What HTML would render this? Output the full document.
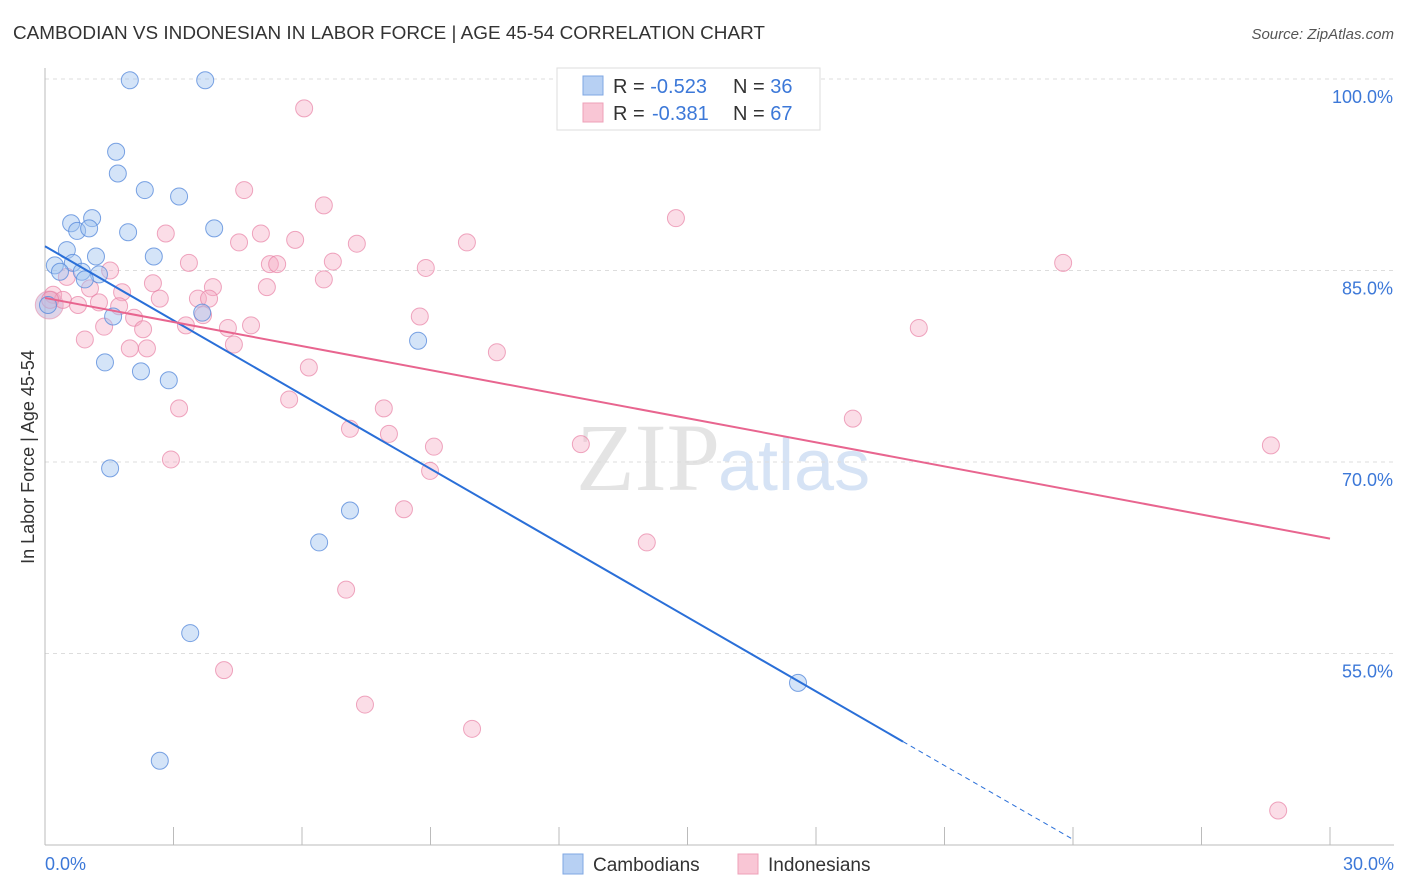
<!DOCTYPE html>
<html><head><meta charset="utf-8">
<style>
body{margin:0;background:#fff;font-family:"Liberation Sans",sans-serif;}
svg{display:block}
</style></head>
<body>
<svg id="chart" width="1406" height="892" xmlns="http://www.w3.org/2000/svg">
<text x="13" y="39" font-size="18" fill="#333" textLength="752" lengthAdjust="spacingAndGlyphs">CAMBODIAN VS INDONESIAN IN LABOR FORCE | AGE 45-54 CORRELATION CHART</text>
<text x="1394" y="39" font-size="15" fill="#555" text-anchor="end" font-style="italic">Source: ZipAtlas.com</text>
<text x="720" y="490" font-size="96" fill="#e4e4e4" text-anchor="end" font-family="Liberation Serif">ZIP</text>
<text x="718" y="490" font-size="72" fill="#d6e3f5">atlas</text>
<g id="grid"></g>
<g id="axes"></g>
<g id="marks"></g>
<text transform="translate(34,457) rotate(-90)" font-size="18" fill="#333" text-anchor="middle">In Labor Force | Age 45-54</text>
<text x="45" y="870" font-size="18" fill="#3c78d8">0.0%</text>
<text x="1394" y="870" font-size="18" fill="#3c78d8" text-anchor="end">30.0%</text>
<g>
<rect x="557" y="68" width="263" height="62" fill="#fff" stroke="#ddd"/>
<rect x="583" y="76" width="20" height="19" fill="#b7d0f3" stroke="#7fa7e3"/>
<rect x="583" y="103" width="20" height="19" fill="#f9c6d5" stroke="#eea0b8"/>
<text x="613" y="93" font-size="20" fill="#333">R = <tspan fill="#3c78d8">-0.523</tspan><tspan x="733">N = </tspan><tspan fill="#3c78d8">36</tspan></text>
<text x="613" y="120" font-size="20" fill="#333">R = <tspan fill="#3c78d8" x="652">-0.381</tspan><tspan x="733">N = </tspan><tspan fill="#3c78d8">67</tspan></text>
</g>
<g>
<rect x="563" y="854" width="20" height="20" fill="#b7d0f3" stroke="#7fa7e3"/>
<text x="593" y="871" font-size="19" fill="#333">Cambodians</text>
<rect x="738" y="854" width="20" height="20" fill="#f9c6d5" stroke="#eea0b8"/>
<text x="768" y="871" font-size="19" fill="#333">Indonesians</text>
</g>
</svg>
<script>
const yTicks=[100,85,70,55];
const yTickLabels=["100.0%","85.0%","70.0%","55.0%"];
const xTicks=[0,3,6,9,12,15,18,21,24,27,30];
const cambX=[1.98,3.74,1.66,1.70,2.33,3.13,0.61,1.10,0.75,1.03,1.94,3.95,0.51,1.19,2.54,0.23,0.65,0.35,0.86,1.26,0.93,0.07,1.59,3.67,8.71,1.40,2.24,2.89,1.52,7.12,6.40,3.39,17.58,2.68];
const cambY=[99.9,99.9,94.3,92.6,91.3,90.8,88.7,89.1,88.1,88.3,88.0,88.3,86.6,86.1,86.1,85.4,85.6,84.9,84.9,84.7,84.3,82.3,81.4,81.7,79.5,77.8,77.1,76.4,69.5,66.2,63.7,56.6,52.7,46.6];
const indoX=[6.05,4.65,6.51,14.73,2.82,5.04,4.53,5.84,7.28,9.85,3.36,5.25,5.42,6.72,8.89,23.77,1.52,0.51,2.52,5.18,3.92,6.51,1.05,1.80,0.19,0.42,1.26,2.68,3.57,3.83,0.77,1.73,2.08,3.69,8.75,1.38,2.29,3.29,4.27,4.81,20.40,0.93,1.98,2.38,4.41,10.55,6.16,3.13,5.70,7.91,7.12,8.03,12.51,9.08,18.86,28.62,2.94,8.99,8.38,14.05,7.03,4.18,7.47,9.97,28.79,0.12];
const indoY=[97.7,91.3,90.1,89.1,87.9,87.9,87.2,87.4,87.1,87.2,85.6,85.5,85.5,85.7,85.2,85.6,85.0,84.5,84.0,83.7,83.7,84.3,83.6,83.3,83.1,82.7,82.5,82.8,82.8,82.8,82.3,82.2,81.3,81.5,81.4,80.6,80.4,80.7,80.5,80.7,80.5,79.6,78.9,78.9,79.2,78.6,77.4,74.2,74.9,74.2,72.6,72.2,71.4,71.2,73.4,71.3,70.2,69.3,66.3,63.7,60.0,53.7,51.0,49.1,42.7,82.7];
const cambTrend=[[0,86.9],[20.03,48.1]];
const cambTrendExt=[[20.03,48.1],[24.02,40.4]];
const indoTrend=[[0,82.85],[30,64.0]];
const sx=v=>45+v/30*1285;
const sy=v=>79+(100-v)/15*191.5;
const NS="http://www.w3.org/2000/svg";
function mk(tag,attrs,parent){const e=document.createElementNS(NS,tag);for(const k in attrs)e.setAttribute(k,attrs[k]);parent.appendChild(e);return e;}
const grid=document.getElementById('grid'),axes=document.getElementById('axes'),marks=document.getElementById('marks');
yTicks.forEach((t,i)=>{
 const l=mk('line',{x1:45,x2:1394,y1:sy(t),y2:sy(t),stroke:'#ddd','stroke-dasharray':'4,4'},grid);
 
 
 const tx=mk('text',{x:1393,y:sy(t)+24,'font-size':18,fill:'#3c78d8','text-anchor':'end'},axes);
 tx.textContent=yTickLabels[i];
 
 
});
const ya=mk('line',{x1:45,x2:45,y1:68,y2:845,stroke:'#bbb'},axes);


const xa=mk('line',{x1:45,x2:1394,y1:845,y2:845,stroke:'#bbb'},axes);


xTicks.forEach(t=>{
 const l=mk('line',{x1:sx(t),x2:sx(t),y1:827,y2:845,stroke:'#bbb'},axes);
 
 
});
const big=mk('circle',{cx:sx(0.1),cy:sy(82.3),r:14,fill:'rgba(190,170,210,0.5)',stroke:'rgba(230,140,170,0.6)'},marks);


indoX.forEach((x,i)=>{
 const c=mk('circle',{cx:sx(x),cy:sy(indoY[i]),r:8.5,fill:'rgba(245,170,195,0.4)',stroke:'rgba(232,130,165,0.7)','stroke-width':1},marks);
 
 
});
cambX.forEach((x,i)=>{
 const c=mk('circle',{cx:sx(x),cy:sy(cambY[i]),r:8.5,fill:'rgba(160,195,240,0.45)',stroke:'rgba(90,140,220,0.8)','stroke-width':1},marks);
 
 
});
const bt=mk('line',{x1:sx(cambTrend[0][0]),y1:sy(cambTrend[0][1]),x2:sx(cambTrend[1][0]),y2:sy(cambTrend[1][1]),stroke:'#2a6fd8','stroke-width':2},marks);


const be=mk('line',{x1:sx(cambTrendExt[0][0]),y1:sy(cambTrendExt[0][1]),x2:sx(cambTrendExt[1][0]),y2:sy(cambTrendExt[1][1]),stroke:'#2a6fd8','stroke-width':1,'stroke-dasharray':'5,4'},marks);


const pt=mk('line',{x1:sx(indoTrend[0][0]),y1:sy(indoTrend[0][1]),x2:sx(indoTrend[1][0]),y2:sy(indoTrend[1][1]),stroke:'#e8658f','stroke-width':2},marks);


</script>
</body></html>
